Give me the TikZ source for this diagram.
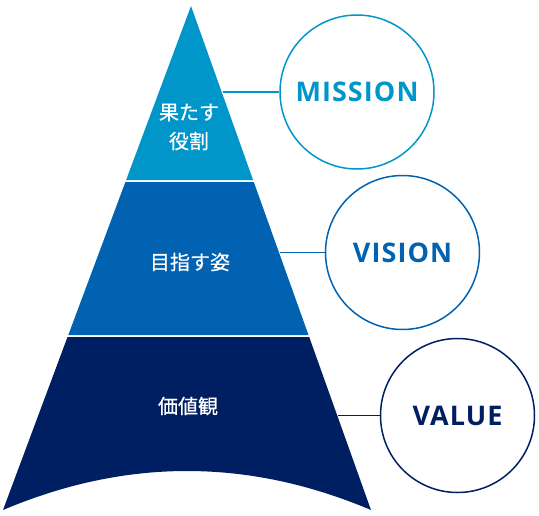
\documentclass[tikz,border=0pt]{standalone}
\usepackage{fontspec}
\setmainfont{Open Sans}
\newfontfamily\jpfont[FakeBold=0.6]{Noto Sans CJK JP}
\definecolor{tierA}{RGB}{0,150,201}
\definecolor{tierB}{RGB}{0,98,176}
\definecolor{tierC}{RGB}{0,31,98}
\begin{document}
\begin{tikzpicture}[x=1pt, y=-1pt,
        tier/.style = {font=\jpfont\fontsize{20}{29}\selectfont, text=white, align=center},
        ring/.style = {circle, draw=#1, line width=1.5pt, text=#1, minimum size=154pt,
            font=\addfontfeature{LetterSpace=4}\fontsize{27}{30}\bfseries\selectfont},
        link/.style = {draw=#1, line width=1.5pt}]
        \useasboundingbox (0, 0) rectangle (539, 515);
        % pyramid tiers
        \fill[tierA] (191, 6) -- (253.1, 180) -- (126.1, 180) -- cycle;
        \fill[tierB] (125.4, 182) -- (253.8, 182) -- (308.5, 335) -- (68.3, 335) -- cycle;
        \fill[tierC] (67.5, 337) -- (309.2, 337) -- (371, 510)
            .. controls (248, 458) and (126, 458) .. (3, 510) -- cycle;
        \node[tier] (role) at (189, 127) {果たす\\役割};
        \node[tier] (goal) at (190, 262) {目指す姿};
        \node[tier] (base) at (188, 406) {価値観};
        % circles and links
        \node[ring=tierA] (mission) at (357, 92) {MISSION};
        \node[ring=tierB] (vision) at (402.5, 252.5) {VISION};
        \node[ring=tierC] (value) at (457.5, 415.5) {VALUE};
        \coordinate (roleedge) at (223, 92);
        \coordinate (goaledge) at (280, 252.5);
        \coordinate (baseedge) at (338, 415.5);
        \draw[link=tierA] (roleedge) -- (mission.west);
        \draw[link=tierB] (goaledge) -- (vision.west);
        \draw[link=tierC] (baseedge) -- (value.west);
    \end{tikzpicture}
\end{document}
